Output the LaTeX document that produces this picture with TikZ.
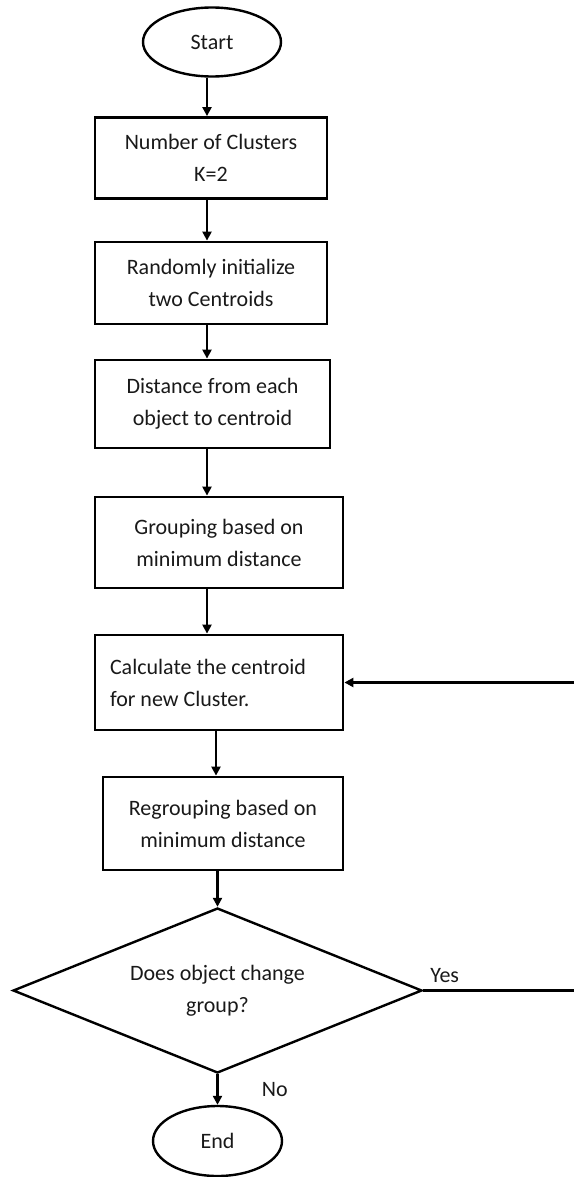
\documentclass[tikz,border=0pt]{standalone}
\usepackage{fontspec}
\setmainfont{Carlito}
\usetikzlibrary{shapes.geometric,arrows.meta}

\begin{document}
\begin{tikzpicture}[x=1pt,y=-1pt,
    every node/.style={font=\fontsize{22}{32}\selectfont, text=black!90},
    box/.style={draw, line width=2.8pt, align=center, inner sep=0pt},
    term/.style={ellipse, draw, line width=2.4pt, inner sep=0pt},
    decision/.style={diamond, aspect=2.5, draw, line width=2.4pt, minimum width=409pt, minimum height=165pt, inner sep=0pt, align=center},
    flow/.style={line width=2.2pt, -{Triangle[length=9pt,width=9pt]}}]
    \useasboundingbox (0,0) rectangle (573,1177);

    \node[term, minimum width=138pt, minimum height=69pt] (start) at (212,42) {Start};
    \node[box, minimum width=232pt, minimum height=81pt] (nclus) at (211,158) {Number of Clusters\\K=2};
    \node[box, minimum width=232pt, minimum height=82pt] (init) at (211,283) {Randomly initialize\\two Centroids};
    \node[box, minimum width=235pt, minimum height=88pt] (dist) at (212.5,404) {Distance from each\\object to centroid};
    \node[box, minimum width=248pt, minimum height=91pt] (group) at (219,542.5) {Grouping based on\\minimum distance};
    \node[box, minimum width=248pt, minimum height=95pt, text width=218pt, align=flush left] (calc) at (219,682.5) {Calculate the centroid\\for new Cluster.};
    \node[box, minimum width=240pt, minimum height=93pt] (regroup) at (223,823.5) {Regrouping based on\\minimum distance};
    \node[decision] (change) at (217.5,990.5) {Does object change\\group?};
    \node[term, minimum width=129pt, minimum height=70pt] (end) at (217.5,1141) {End};
    \coordinate (loop) at (577,990.5);

    \draw[flow] ([xshift=-5pt]start.south) -- ([xshift=-5pt]start.south |- nclus.north);
    \draw[flow] ([xshift=-4pt]nclus.south) -- ([xshift=-4pt]nclus.south |- init.north);
    \draw[flow] ([xshift=-4pt]init.south) -- ([xshift=-4pt]init.south |- dist.north);
    \draw[flow] ([xshift=-5.5pt]dist.south) -- ([xshift=-5.5pt]dist.south |- group.north);
    \draw[flow] ([xshift=-12pt]group.south) -- ([xshift=-12pt]group.south |- calc.north);
    \draw[flow] ([xshift=-3pt]calc.south) -- ([xshift=-3pt]calc.south |- regroup.north);
    \draw[flow] (regroup.south -| change.north) -- (change.north);
    \draw[flow] (change.south) -- node[right=40pt] {No} (end.north);
    \draw[flow] (change.east) -- node[above=3pt, pos=0.14] {Yes} (loop) |- (calc.east);
\end{tikzpicture}
\end{document}
